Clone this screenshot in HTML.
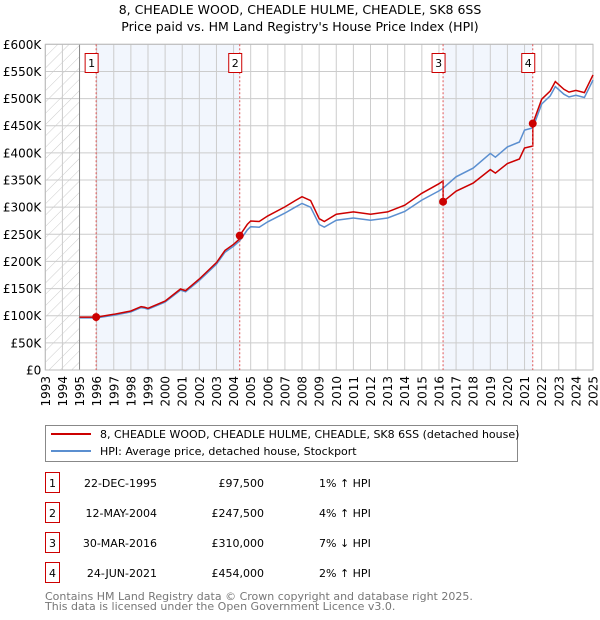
<!DOCTYPE html>
<html><head><meta charset="utf-8"><style>
html,body{margin:0;padding:0;background:#fff;}
svg{display:block;font-family:"DejaVu Sans","Liberation Sans",sans-serif;}
</style></head><body>
<svg id="chart" width="600" height="620" viewBox="0 0 600 620">
<defs>
<pattern id="hatch" width="8" height="8" patternUnits="userSpaceOnUse" patternTransform="rotate(45)">
<line x1="0" y1="0" x2="0" y2="8" stroke="#ccc" stroke-width="1"/>
</pattern>
</defs>
<text x="300" y="14" text-anchor="middle" font-size="12.5">8, CHEADLE WOOD, CHEADLE HULME, CHEADLE, SK8 6SS</text>
<text x="300" y="31" text-anchor="middle" font-size="12.5">Price paid vs. HM Land Registry's House Price Index (HPI)</text>
<g id="plot"></g>
<g>
<rect x="45.5" y="425.5" width="472" height="36" fill="#fff" stroke="#888"/>
<line x1="51" y1="434" x2="91" y2="434" stroke="#cc0000" stroke-width="2"/>
<text x="100" y="438" font-size="11">8, CHEADLE WOOD, CHEADLE HULME, CHEADLE, SK8 6SS (detached house)</text>
<line x1="51" y1="451" x2="91" y2="451" stroke="#5b8fd0" stroke-width="2"/>
<text x="100" y="455" font-size="11">HPI: Average price, detached house, Stockport</text>
</g>
<g id="table" font-size="11"></g>
<text x="45" y="600" font-size="11" fill="#777">Contains HM Land Registry data © Crown copyright and database right 2025.</text>
<text x="45" y="610" font-size="11" fill="#777">This data is licensed under the Open Government Licence v3.0.</text>
</svg>
<script>
const hpiYears = [1995,1996,1997,1998,1998.6,1998.8,1999,2000,2000.9,2001.2,2002,2003,2003.5,2004,2004.36,2004.8,2005,2005.5,2006,2007,2007.6,2008,2008.5,2009,2009.3,2010,2011,2012,2013,2014,2015,2016,2016.24,2017,2018,2019,2019.3,2020,2020.7,2021,2021.48,2022,2022.5,2022.8,2023.3,2023.6,2024,2024.5,2025];
const hpiValues = [96,96,101,107,115,114,112,125,147,144,165,195,217,228,238,258,264,263,273,289,300,307,300,268,263,276,280,276,280,292,313,330,335,356,372,399,392,411,420,442,446,490,505,522,508,503,506,502,534];
const saleYears = [1995.97,2004.36,2016.24,2021.48];
const salePrices = [97500,247500,310000,454000];
const saleDates = ["22-DEC-1995","12-MAY-2004","30-MAR-2016","24-JUN-2021"];
const saleDiffs = ["1% \u2191 HPI","4% \u2191 HPI","7% \u2193 HPI","2% \u2191 HPI"];
const yTicks = [0,50,100,150,200,250,300,350,400,450,500,550,600];
const xTicks = [];for(let y=1993;y<=2025;y++)xTicks.push(y);

const X0=45.3,X1=593,Y0=370,Y1=44.3;
const sx=y=>X0+(y-1993)/32*(X1-X0);
const sy=v=>Y0-v/600*(Y0-Y1);
const NS="http://www.w3.org/2000/svg";
const plot=document.getElementById('plot');
function mk(tag,attrs,parent){const e=document.createElementNS(NS,tag);for(const k in attrs)e.setAttribute(k,attrs[k]);(parent||plot).appendChild(e);return e;}
function hpiAt(t){for(let i=0;i<hpiYears.length-1;i++){if(t<=hpiYears[i+1]){const f=(t-hpiYears[i])/(hpiYears[i+1]-hpiYears[i]);return hpiValues[i]+f*(hpiValues[i+1]-hpiValues[i]);}}return hpiValues[hpiValues.length-1];}

let r=mk('rect',{x:sx(1993),y:Y1,width:sx(1995)-sx(1993),height:Y0-Y1,fill:'url(#hatch)'});

r=mk('rect',{x:sx(saleYears[0]),y:Y1,width:sx(saleYears[1])-sx(saleYears[0]),height:Y0-Y1,fill:'#eef3fc',opacity:0.75});

r=mk('rect',{x:sx(saleYears[2]),y:Y1,width:sx(saleYears[3])-sx(saleYears[2]),height:Y0-Y1,fill:'#eef3fc',opacity:0.75});


yTicks.forEach(v=>{
 const l=mk('line',{x1:X0,x2:X1,y1:sy(v),y2:sy(v),stroke:'#ccc','stroke-width':1});
 
 const t=mk('text',{x:X0-4,y:sy(v)+4.5,'text-anchor':'end','font-size':12});
 
 t.textContent=v===0?'£0':'£'+v+'K';
});
xTicks.forEach(y=>{
 const l=mk('line',{x1:sx(y),x2:sx(y),y1:Y1,y2:Y0,stroke:'#ccc','stroke-width':1});
 
 const t=mk('text',{x:0,y:0,'font-size':12,'text-anchor':'end',transform:`translate(${sx(y)+4.5},${Y0+6}) rotate(-90)`});
 
 t.textContent=y;
});
let ax=mk('line',{x1:sx(1995),x2:sx(1995),y1:Y1,y2:Y0,stroke:'#888'});

let bx=mk('rect',{x:X0,y:Y1,width:X1-X0,height:Y0-Y1,fill:'none',stroke:'#bbb'});


const hp=hpiYears.map((y,i)=>`${i?'L':'M'}${sx(y).toFixed(1)},${sy(hpiValues[i]).toFixed(1)}`).join('');
let p=mk('path',{d:hp,fill:'none',stroke:'#5b8fd0','stroke-width':1.5});


let pts=[];
for(let s=0;s<saleYears.length;s++){
 const start=s===0?1995:saleYears[s], end=s===saleYears.length-1?2025:saleYears[s+1];
 const k=salePrices[s]/1000/hpiAt(saleYears[s]);
 const ys=[start].concat(hpiYears.filter(y=>y>start&&y<end)).concat([end]);
 ys.forEach(y=>pts.push([sx(y),sy(hpiAt(y)*k)]));
}
p=mk('path',{d:pts.map((q,i)=>`${i?'L':'M'}${q[0].toFixed(1)},${q[1].toFixed(1)}`).join(''),fill:'none',stroke:'#cc0000','stroke-width':1.5});


saleYears.forEach((y,i)=>{
 const l=mk('line',{x1:sx(y),x2:sx(y),y1:Y1,y2:Y0,stroke:'#e05555','stroke-dasharray':'2,2','stroke-width':1});
 
 const c=mk('circle',{cx:sx(y),cy:sy(salePrices[i]/1000),r:4,fill:'#cc0000'});
 
 const b=mk('rect',{x:sx(y)-11,y:53.5,width:13,height:19,fill:'#fff',stroke:'#cc0000'});
 
 const t=mk('text',{x:sx(y)-4.5,y:67,'text-anchor':'middle','font-size':11});
 
 t.textContent=i+1;
});

const tbl=document.getElementById('table');
saleYears.forEach((y,i)=>{
 const yy=483+i*30;
 const b=mk('rect',{x:45.5,y:yy-10.5,width:14,height:20,fill:'#fff',stroke:'#cc0000'},tbl);
 
 const n=mk('text',{x:52.5,y:yy+4,'text-anchor':'middle'},tbl);n.textContent=i+1;
 
 const d=mk('text',{x:157,y:yy+4,'text-anchor':'end'},tbl);d.textContent=saleDates[i];
 
 const pr=mk('text',{x:264,y:yy+4,'text-anchor':'end'},tbl);pr.textContent='£'+salePrices[i].toLocaleString('en-GB');
 
 const df=mk('text',{x:319,y:yy+4},tbl);df.textContent=saleDiffs[i];
 
});
</script>
</body></html>
